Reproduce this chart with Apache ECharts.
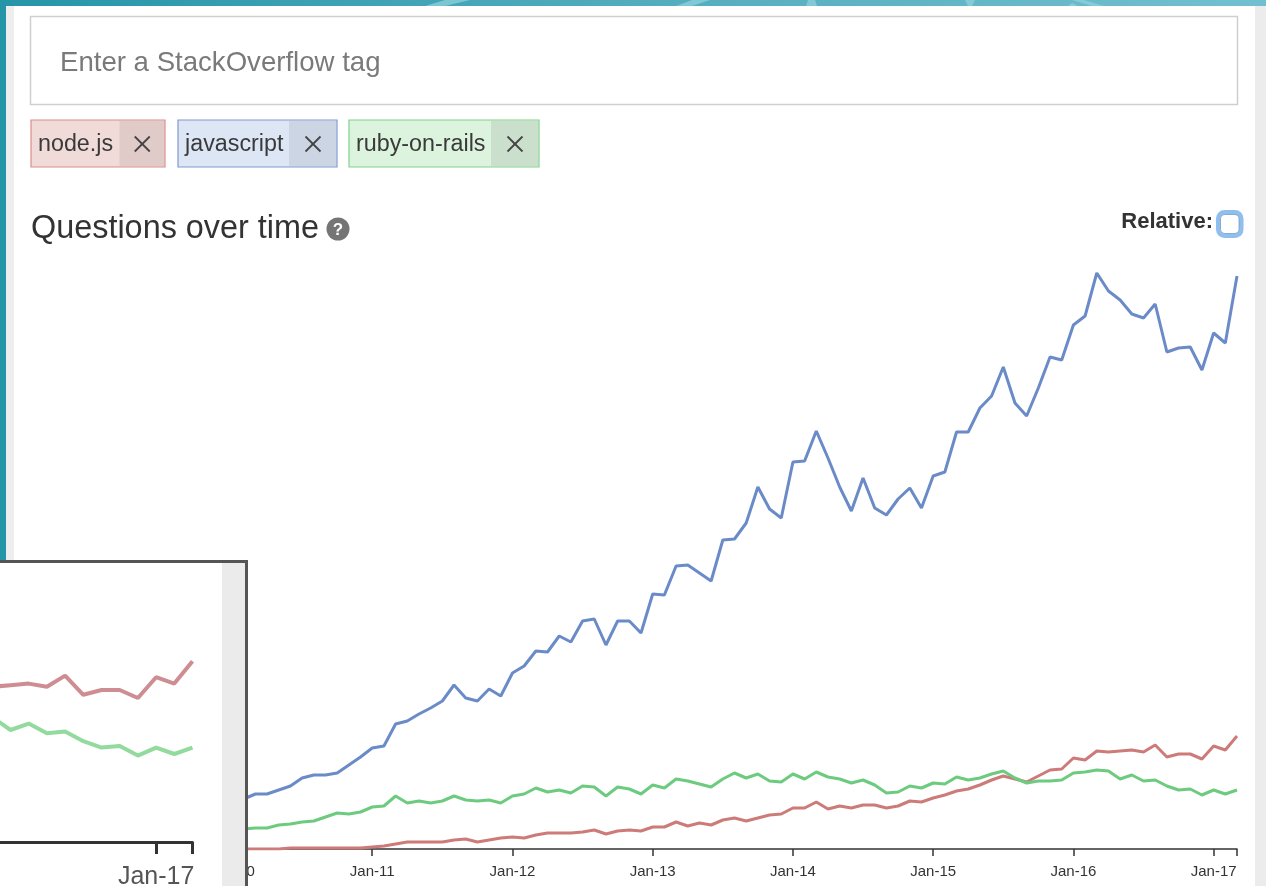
<!DOCTYPE html>
<html>
<head>
<meta charset="utf-8">
<title>Questions over time</title>
<style>
  html, body { margin: 0; padding: 0; background: #fff; overflow: hidden; }
  #main { width: 1266px; height: 886px; filter: blur(0.45px); }
</style>
<script src="https://cdn.jsdelivr.net/npm/echarts@6/dist/echarts.min.js"></script>
</head>
<body>
<div id="main"></div>
<script>
// monthly values Jan-10 .. Mar-17 (no scale shown, so unit is relative)
var nodejs = [
  0, 0, 0, 0, 0, 1, 1, 1, 1, 1, 1, 1,
  2, 3, 5, 7, 7, 7, 7, 9, 10, 7, 9, 11,
  12, 11, 14, 16, 16, 16, 17, 19, 15, 18, 19, 18,
  22, 22, 27, 23, 26, 24, 29, 31, 28, 31, 34, 35,
  41, 41, 47, 40, 43, 41, 44, 44, 41, 43, 48, 47,
  51, 54, 58, 60, 64, 69, 73, 70, 67, 73, 79, 80,
  91, 89, 98, 97, 98, 99, 97, 104, 92, 95, 95, 90,
  103, 99, 113
];
var javascript = [
  47, 50, 55, 55, 59, 63, 71, 74, 74, 76, 84, 92,
  101, 103, 125, 128, 135, 141, 148, 164, 151, 148, 160, 153,
  176, 183, 198, 197, 213, 207, 228, 230, 204, 228, 228, 216,
  255, 254, 283, 284, 276, 268, 309, 310, 326, 362, 340, 331,
  387, 388, 418, 391, 362, 338, 371, 341, 334, 350, 361, 341,
  373, 377, 417, 417, 441, 453, 482, 446, 433, 461, 492, 489,
  524, 533, 576, 558, 549, 535, 531, 545, 497, 501, 502, 479,
  516, 506, 573
];
var rubyOnRails = [
  20, 20, 21, 21, 24, 25, 27, 28, 32, 36, 35, 37,
  42, 43, 53, 46, 48, 46, 48, 53, 49, 48, 49, 46,
  53, 55, 61, 57, 59, 56, 63, 62, 53, 62, 60, 55,
  64, 61, 70, 68, 65, 62, 70, 76, 71, 75, 68, 67,
  75, 70, 77, 72, 70, 66, 69, 64, 56, 57, 63, 61,
  66, 65, 72, 69, 71, 75, 78, 71, 66, 68, 68, 69,
  76, 77, 79, 78, 70, 74, 68, 69, 63, 59, 60, 54,
  59, 55, 59
];
var monthNames = ['Jan', 'Feb', 'Mar', 'Apr', 'May', 'Jun', 'Jul', 'Aug', 'Sep', 'Oct', 'Nov', 'Dec'];
var months = [];
for (var m = 0; m < nodejs.length; m++) {
  months.push(monthNames[m % 12] + '-' + (10 + Math.floor(m / 12)));
}

var RED = '#cd7b78', BLUE = '#6a8bc7', GREEN = '#6ccb7e';
var FONT = '"Liberation Sans", Arial, sans-serif';

function isJan(i, v) { return v.indexOf('Jan') === 0; }
function isTick(i, v) { return isJan(i, v) || i === months.length - 1; }

// chip: tag box with a darker close area and an x
function chip(x0, x1, xClose, label, fill, border, closeFill) {
  var cy = 144, cx = (xClose + x1) / 2, d = 7.5;
  return [
    { type: 'rect', shape: { x: x0, y: 120, width: x1 - x0, height: 47 }, style: { fill: fill, stroke: border, lineWidth: 1.2 } },
    { type: 'rect', shape: { x: xClose, y: 121, width: x1 - xClose - 1, height: 45 }, style: { fill: closeFill } },
    { type: 'text', x: x0 + 7, y: cy + 1, style: { text: label, font: '23.3px ' + FONT, fill: '#3a3a3a', textVerticalAlign: 'middle' } },
    { type: 'line', shape: { x1: cx - d, y1: cy - d, x2: cx + d, y2: cy + d }, style: { stroke: '#444', lineWidth: 1.8 } },
    { type: 'line', shape: { x1: cx - d, y1: cy + d, x2: cx + d, y2: cy - d }, style: { stroke: '#444', lineWidth: 1.8 } }
  ];
}

// light swooshes in the header band
function swoosh(pts) {
  return { type: 'polygon', shape: { points: pts }, style: { fill: '#8fd0dc', opacity: 0.75 } };
}

var page = [
  { type: 'rect', shape: { x: 0, y: 0, width: 1266, height: 6 }, style: { fill: new echarts.graphic.LinearGradient(0, 0, 1, 0, [{ offset: 0, color: '#2595a8' }, { offset: 0.5, color: '#52acbd' }, { offset: 1, color: '#72c0cf' }]) } },
  swoosh([[425, 6], [445, 0], [470, 0], [445, 6]]),
  swoosh([[676, 6], [692, 0], [710, 0], [692, 6]]),
  swoosh([[806, 6], [808, 0], [815, 0], [817, 6]]),
  swoosh([[965, 0], [975, 0], [972, 6], [968, 6]]),
  swoosh([[1068, 6], [1072, 3], [1078, 6]]),
  swoosh([[1072, 0], [1084, 0], [1104, 6], [1092, 6]]),
  { type: 'rect', shape: { x: 0, y: 0, width: 6, height: 562 }, style: { fill: '#2595a8' } },
  { type: 'rect', shape: { x: 6, y: 6, width: 8, height: 556 }, style: { fill: '#eeeeee' } },
  { type: 'rect', shape: { x: 1255, y: 6, width: 11, height: 880 }, style: { fill: '#ececec' } },
  { type: 'rect', shape: { x: 30.5, y: 16.5, width: 1207, height: 88 }, style: { fill: '#fff', stroke: '#cfcfcf', lineWidth: 1.5 } },
  { type: 'text', x: 60, y: 63, style: { text: 'Enter a StackOverflow tag', font: '27.6px ' + FONT, fill: '#7a7a7a', textVerticalAlign: 'middle' } },
  { type: 'text', x: 31, y: 229, style: { text: 'Questions over time', font: '32.4px ' + FONT, fill: '#333', textVerticalAlign: 'middle' } },
  { type: 'circle', shape: { cx: 338, cy: 229, r: 11.5 }, style: { fill: '#757575' } },
  { type: 'text', x: 338, y: 230, style: { text: '?', font: 'bold 17px ' + FONT, fill: '#fff', textAlign: 'center', textVerticalAlign: 'middle' } },
  { type: 'text', x: 1213, y: 222, style: { text: 'Relative:', font: 'bold 22px ' + FONT, fill: '#333', textAlign: 'right', textVerticalAlign: 'middle' } },
  { type: 'rect', shape: { x: 1218.5, y: 212.5, width: 22.5, height: 23, r: 6 }, style: { fill: '#fff', stroke: '#8fbfee', lineWidth: 5 } },
  { type: 'rect', shape: { x: 1220.5, y: 214.5, width: 18.5, height: 19, r: 4 }, style: { fill: '#fff', stroke: '#7d9cc0', lineWidth: 0.8 } }
];
page = page.concat(
  chip(31, 165, 119.5, 'node.js', '#f0dbd8', '#d98d8c', '#e0cbc8'),
  chip(178, 337, 289, 'javascript', '#dde6f5', '#8099d0', '#ccd5e3'),
  chip(349, 539, 491, 'ruby-on-rails', '#dcf3dd', '#83d08f', '#cbe0cc')
);

// pasted zoomed crop sitting over the lower left of the chart
var insetBox = [
  { type: 'rect', z: 10, shape: { x: 0, y: 562, width: 246, height: 324 }, style: { fill: '#fff' } },
  { type: 'rect', z: 10, shape: { x: 222, y: 563, width: 23, height: 323 }, style: { fill: '#ebebeb' } },
  { type: 'line', z: 10, shape: { x1: 0, y1: 561.5, x2: 246.5, y2: 561.5 }, style: { stroke: '#555', lineWidth: 3 } },
  { type: 'line', z: 10, shape: { x1: 246.5, y1: 560, x2: 246.5, y2: 886 }, style: { stroke: '#555', lineWidth: 3 } }
];

var chart = echarts.init(document.getElementById('main'), null, { renderer: 'canvas' });

function mainLine(name, data, color) {
  return { name: name, type: 'line', data: data, xAxisIndex: 0, yAxisIndex: 0, showSymbol: false, smooth: false, z: 2, lineStyle: { color: color, width: 3 } };
}
function insetLine(name, data, color) {
  return { name: name, type: 'line', data: data, xAxisIndex: 1, yAxisIndex: 1, showSymbol: false, smooth: false, z: 21, lineStyle: { color: color, width: 4, opacity: 0.85 } };
}

chart.setOption({
  animation: false,
  backgroundColor: '#fff',
  graphic: { elements: page.concat(insetBox) },
  grid: [
    { left: 232, right: 29, top: 249, bottom: 37, outerBoundsMode: 'none' },
    { left: -7.7, right: 1073.5, top: 566, bottom: 44, outerBoundsMode: 'none' }
  ],
  xAxis: [
    {
      type: 'category', gridIndex: 0, data: months, boundaryGap: false,
      axisLine: { onZero: false, lineStyle: { color: '#333', width: 1.5 } },
      axisTick: { interval: isTick, length: 7, lineStyle: { color: '#333', width: 1.5 } },
      axisLabel: { interval: isJan, margin: 15, fontSize: 15, fontFamily: FONT, color: '#333' },
      splitLine: { show: false }
    },
    {
      type: 'category', gridIndex: 1, data: months, boundaryGap: false, min: 75, max: 86, z: 20,
      axisLine: { onZero: false, lineStyle: { color: '#333', width: 3 } },
      axisTick: { interval: isTick, length: 12, lineStyle: { color: '#333', width: 3 } },
      axisLabel: { interval: isJan, margin: 23, fontSize: 25, fontFamily: FONT, color: '#555' },
      splitLine: { show: false }
    }
  ],
  yAxis: [
    { type: 'value', gridIndex: 0, min: 0, max: 600, show: false },
    { type: 'value', gridIndex: 1, min: 0, max: 172.5, show: false }
  ],
  series: [
    mainLine('node.js', nodejs, RED),
    mainLine('javascript', javascript, BLUE),
    mainLine('ruby-on-rails', rubyOnRails, GREEN),
    insetLine('node.js', nodejs, '#c5797f'),
    insetLine('ruby-on-rails', rubyOnRails, '#7fd38d')
  ]
});
</script>
</body>
</html>
